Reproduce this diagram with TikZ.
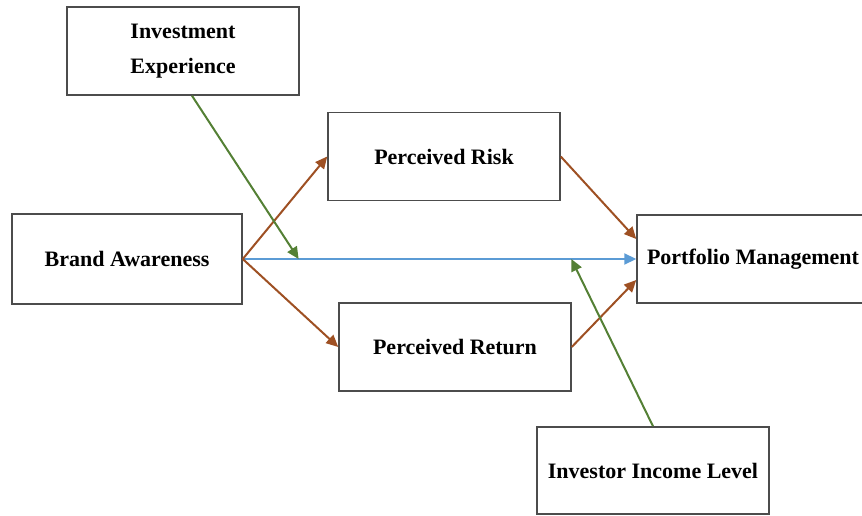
\documentclass[tikz,border=0pt]{standalone}
\usepackage{fontspec}
\setmainfont{Liberation Serif}
\usetikzlibrary{arrows.meta, calc}

\definecolor{pathbrown}{RGB}{158,80,35}
\definecolor{modgreen}{RGB}{84,128,53}
\definecolor{directblue}{RGB}{91,155,213}

\begin{document}
\begin{tikzpicture}[
    x=1pt, y=-1pt,
    varbox/.style={draw=black!70, line width=1.5pt, fill=white,
                   minimum width=232pt, minimum height=88pt, inner sep=0pt,
                   font=\fontsize{22}{35}\selectfont\bfseries, align=center},
    patharr/.style={-{Triangle[length=12pt,width=11pt]}, line width=2pt, pathbrown},
    modarr/.style={-{Triangle[length=12pt,width=11pt]}, line width=2pt, modgreen},
    directarr/.style={-{Triangle[length=12pt,width=11pt]}, line width=2.2pt, directblue},
]
\useasboundingbox (0,0) rectangle (862,516);

\node[varbox] (invexp) at (183,51) {Investment\\Experience};
\node[varbox, minimum width=230pt, minimum height=90pt] (brand) at (127,259) {Brand Awareness};
\node[varbox] (risk) at (444,156.5) {Perceived Risk};
\node[varbox] (ret) at (455,347) {Perceived Return};
\node[varbox] (pm) at (753,259) {Portfolio Management};
\node[varbox, minimum height=87pt] (income) at (653,470.5) {Investor Income Level};

% direct effect
\draw[directarr] (brand.east) -- (pm.west);

% mediation paths
\draw[patharr] (brand.east) -- (risk.west);
\draw[patharr] (brand.east) -- (ret.west);
\draw[patharr] (risk.east) -- ([yshift=20pt]pm.west);
\draw[patharr] (ret.east) -- ([yshift=-21pt]pm.west);

% moderators
\coordinate (modexp) at ($(brand.east)!0.142!(pm.west)$);
\coordinate (modinc) at ($(brand.east)!0.835!(pm.west)$);
\draw[modarr] ([xshift=9pt]invexp.south) -- (modexp);
\draw[modarr] (income.north) -- (modinc);
\end{tikzpicture}
\end{document}
